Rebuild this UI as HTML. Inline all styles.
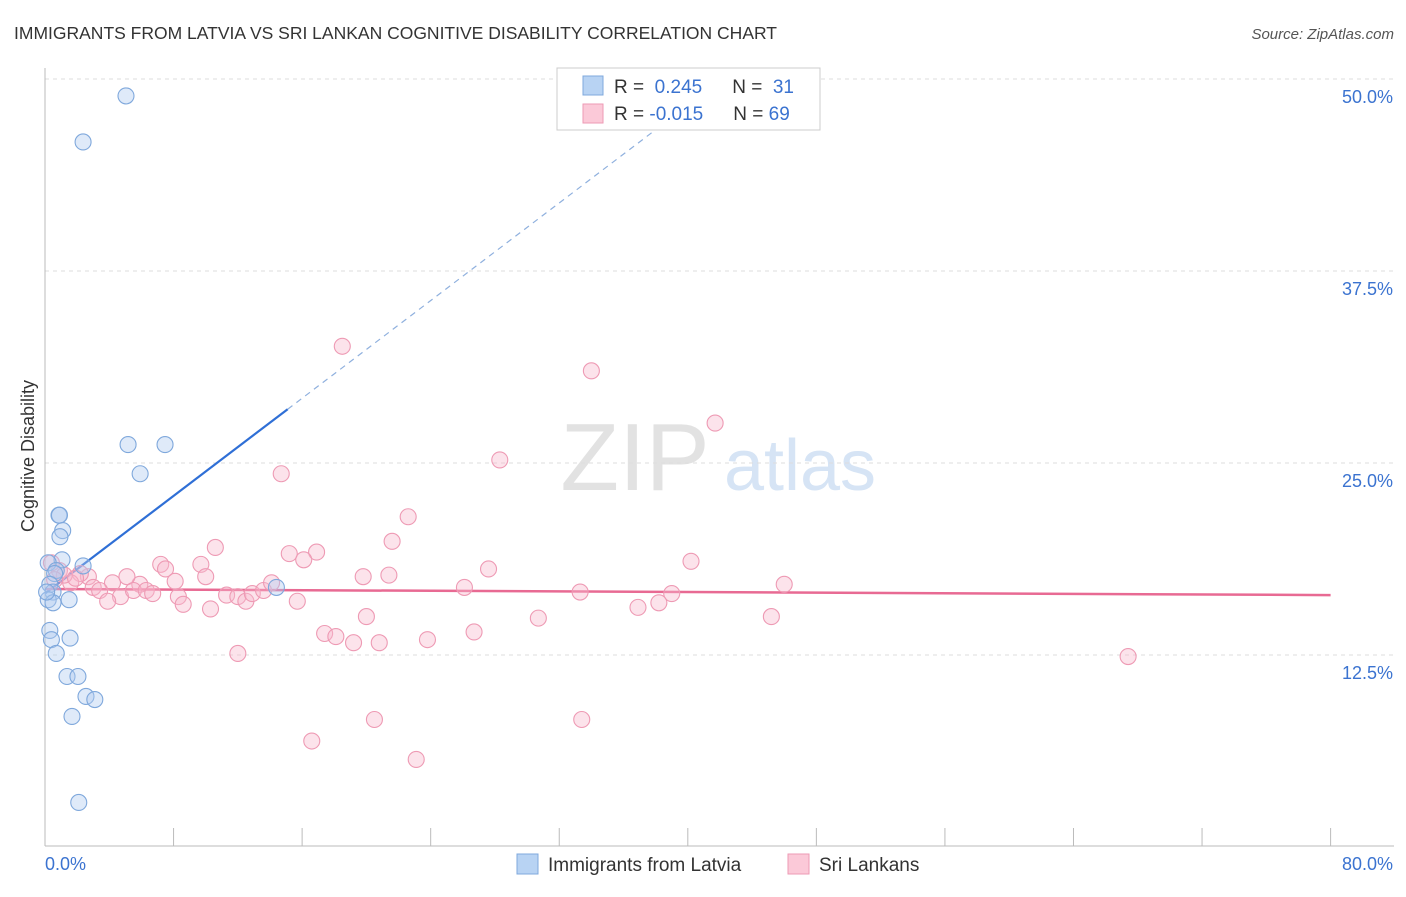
<!DOCTYPE html>
<html><head><meta charset="utf-8"><style>
body{margin:0;background:#fff;font-family:"Liberation Sans",sans-serif;}
svg text{font-family:"Liberation Sans",sans-serif;}
</style></head><body>
<svg id="chart" width="1406" height="892">
<text x="14" y="39" font-size="17.5" fill="#333">IMMIGRANTS FROM LATVIA VS SRI LANKAN COGNITIVE DISABILITY CORRELATION CHART</text>
<text x="1394" y="39" font-size="15" fill="#555" font-style="italic" text-anchor="end">Source: ZipAtlas.com</text>
<text x="34" y="456" font-size="18" fill="#333" text-anchor="middle" transform="rotate(-90 34 456)">Cognitive Disability</text>
<g>
<text x="635" y="490" font-size="96" fill="#e2e2e2" font-family="Liberation Serif" text-anchor="middle">ZIP</text>
<text x="800" y="490" font-size="72" fill="#d6e4f5" text-anchor="middle">atlas</text>
</g>
<g id="grid"></g><g id="axes"></g><g id="lines"></g><g id="pts"></g>
<g>
<rect x="557" y="68" width="263" height="62" fill="#fff" stroke="#ccc"/>
<rect x="583" y="76" width="20" height="19" fill="#b8d3f3" stroke="#7fa8dc"/>
<rect x="583" y="104" width="20" height="19" fill="#fbc9d8" stroke="#ee9ab4"/>
<text x="614" y="93" font-size="19" fill="#333">R = <tspan fill="#3b73d0">&#160;0.245</tspan><tspan dx="30">N = </tspan><tspan fill="#3b73d0">&#160;31</tspan></text>
<text x="614" y="120" font-size="19" fill="#333">R = <tspan fill="#3b73d0">-0.015</tspan><tspan dx="30">N = </tspan><tspan fill="#3b73d0">69</tspan></text>
</g>
<g>
<rect x="517" y="854" width="21" height="20" fill="#b8d3f3" stroke="#7fa8dc"/>
<text x="548" y="871" font-size="19" fill="#333">Immigrants from Latvia</text>
<rect x="788" y="854" width="21" height="20" fill="#fbc9d8" stroke="#ee9ab4"/>
<text x="819" y="871" font-size="19" fill="#333">Sri Lankans</text>
</g>
</svg>
<script>
const xTicksLabels=["0.0%","80.0%"];
const yTicks=[12.5,25,37.5,50];
const yTickLabels=["12.5%","25.0%","37.5%","50.0%"];
const latviaX=[5.04,2.37,5.17,7.47,5.92,0.87,0.9,1.1,0.93,1.06,0.2,2.37,0.7,0.6,0.3,0.5,0.2,0.5,1.5,0.3,0.4,1.56,0.7,1.37,2.05,2.55,3.1,1.68,2.1,14.4,0.1];
const latviaY=[48.9,45.9,26.2,26.2,24.3,21.6,21.6,20.6,20.2,18.7,18.5,18.3,18.0,17.8,17.1,16.6,16.1,15.9,16.1,14.1,13.5,13.6,12.6,11.1,11.1,9.8,9.6,8.5,2.9,16.9,16.6];
const lankaX=[18.5,34.0,41.7,14.7,28.3,22.6,21.6,10.6,15.2,16.9,16.1,7.2,7.5,9.7,27.6,40.2,19.8,21.4,10.0,8.1,5.9,4.2,5.1,2.7,2.2,1.6,3.0,3.4,4.7,5.5,6.3,6.7,3.9,8.3,8.6,10.3,11.3,12.0,12.5,12.9,13.6,14.1,15.7,26.1,33.3,46.0,38.2,36.9,39.0,20.0,30.7,45.2,17.4,18.1,19.2,20.8,23.8,26.7,12.0,67.4,20.5,33.4,16.6,23.1,0.9,0.4,1.2,1.9,0.6];
const lankaY=[32.6,31.0,27.6,24.3,25.2,21.5,19.9,19.5,19.1,19.2,18.7,18.4,18.1,18.4,18.1,18.6,17.6,17.7,17.6,17.3,17.1,17.2,17.6,17.6,17.8,17.2,16.9,16.7,16.3,16.7,16.7,16.5,16.0,16.3,15.8,15.5,16.4,16.3,16.0,16.5,16.7,17.2,16.0,16.9,16.6,17.1,15.9,15.6,16.5,15.0,14.9,15.0,13.9,13.7,13.3,13.3,13.5,14.0,12.6,12.4,8.3,8.3,6.9,5.7,18.0,18.5,17.7,17.5,17.4];
const latviaFit=[16.5,28.5];
const latviaFitEnd=15.1;
const lankaFit=[16.8,16.4];
const NS="http://www.w3.org/2000/svg";
const X=v=>45+v*16.07, Y=v=>847-v*15.36;
function mk(t,a,p){const e=document.createElementNS(NS,t);for(const k in a)e.setAttribute(k,a[k]);p.appendChild(e);return e;}
const grid=document.getElementById('grid'),axes=document.getElementById('axes'),lines=document.getElementById('lines'),pts=document.getElementById('pts');
yTicks.forEach((t,i)=>{
 const l=mk('line',{x1:45,x2:1394,y1:Y(t),y2:Y(t),stroke:'#ddd','stroke-dasharray':'4,4'},grid);
 
 
 const tx=mk('text',{x:1393,y:Y(t)+24,'font-size':18,fill:'#3b73d0','text-anchor':'end'},axes);
 tx.textContent=yTickLabels[i];
 
 
});
const ax=mk('line',{x1:45,x2:1394,y1:846,y2:846,stroke:'#bbb'},axes);


const ay=mk('line',{x1:45,x2:45,y1:68,y2:846,stroke:'#bbb'},axes);


for(let i=0;i<=10;i++){const t=mk('line',{x1:X(i*8),x2:X(i*8),y1:828,y2:846,stroke:'#bbb'},axes);
 
 }
const x0=mk('text',{x:45,y:870,'font-size':18,fill:'#3b73d0'},axes);x0.textContent=xTicksLabels[0];


const x1=mk('text',{x:1393,y:870,'font-size':18,fill:'#3b73d0','text-anchor':'end'},axes);x1.textContent=xTicksLabels[1];


lankaX.forEach((x,i)=>{const c=mk('circle',{cx:X(x),cy:Y(lankaY[i]),r:8,fill:'rgba(248,185,205,0.4)',stroke:'#ee9ab4','stroke-width':1.1},pts);
 
 });
latviaX.forEach((x,i)=>{const c=mk('circle',{cx:X(x),cy:Y(latviaY[i]),r:8,fill:'rgba(175,203,240,0.4)',stroke:'#7fa8dc','stroke-width':1.1},pts);
 
 });
const slope=(latviaFit[1]-latviaFit[0])/latviaFitEnd;
const bl=mk('line',{x1:X(0),y1:Y(latviaFit[0]),x2:X(latviaFitEnd),y2:Y(latviaFit[1]),stroke:'#2f6fd6','stroke-width':2.2},lines);


const xEnd=(48.5-latviaFit[0])/slope;
const bd=mk('line',{x1:X(latviaFitEnd),y1:Y(latviaFit[1]),x2:X(xEnd),y2:Y(48.5),stroke:'#8fb0de','stroke-width':1.2,'stroke-dasharray':'6,5'},lines);


const pl=mk('line',{x1:X(0),y1:Y(lankaFit[0]),x2:X(80),y2:Y(lankaFit[1]),stroke:'#e86a93','stroke-width':2.5},lines);


</script>
</body></html>
